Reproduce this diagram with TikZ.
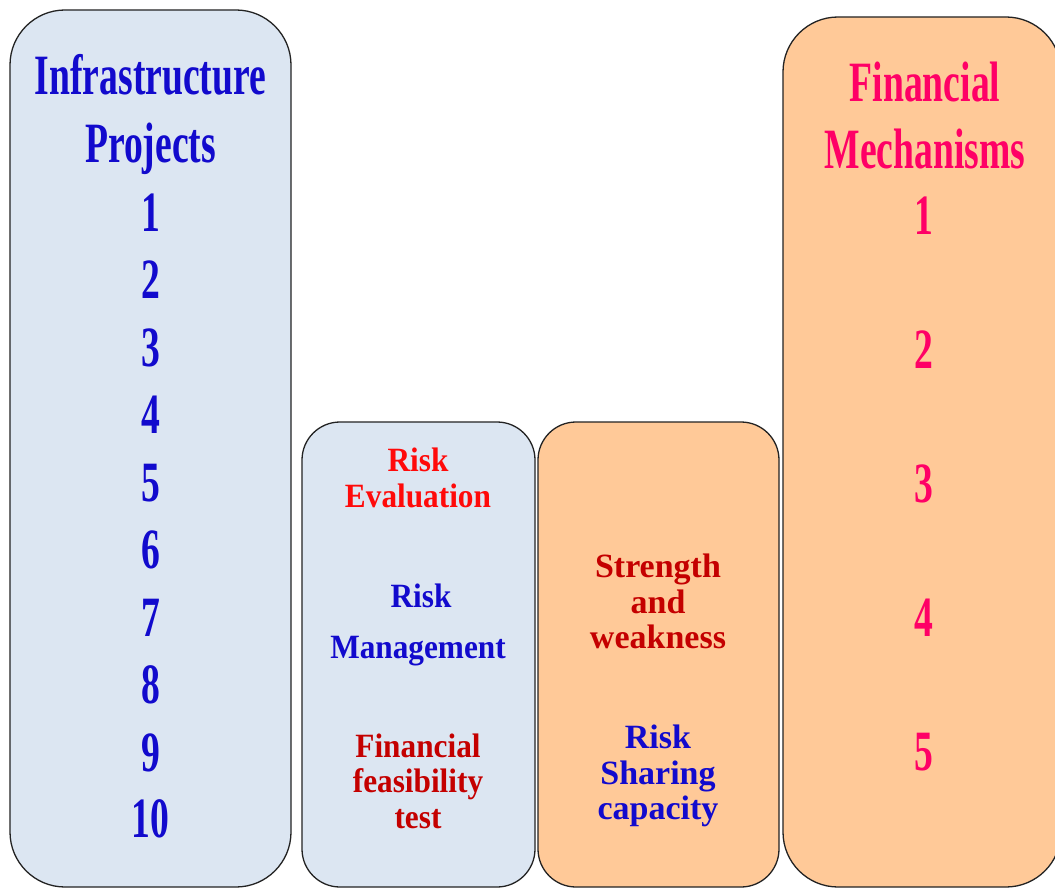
\documentclass[tikz,border=0pt]{standalone}
\usepackage{fontspec}
\usepackage{graphicx}
\setmainfont{Liberation Serif}
\definecolor{lblue}{RGB}{220,230,242}
\definecolor{lorange}{RGB}{255,201,152}
\definecolor{tblue}{RGB}{18,10,205}
\definecolor{tred}{RGB}{255,10,10}
\definecolor{tdred}{RGB}{196,0,0}
\definecolor{tpink}{RGB}{255,0,102}
\definecolor{edge}{RGB}{35,35,35}
\newcommand\cbig[1]{\scalebox{0.66}[1]{#1}}
\newcommand\cmid[1]{\scalebox{0.92}[1]{#1}}
\tikzset{
  panel/.style={draw=edge, line width=1.3pt, rectangle, inner sep=0pt},
  bluepanel/.style={panel, fill=lblue},
  orangepanel/.style={panel, fill=lorange},
  bigtext/.style={font=\fontsize{57}{60}\selectfont\bfseries, anchor=base, inner sep=0pt},
  midtext/.style={font=\fontsize{34}{36}\selectfont\bfseries, anchor=base, inner sep=0pt},
}
\begin{document}
\begin{tikzpicture}[x=1pt,y=-1pt]
\useasboundingbox (0,0) rectangle (1055,888);
\clip (0,0) rectangle (1055,888);
\fill[white] (0,0) rectangle (1055,888);
% panels
\node[bluepanel, rounded corners=55pt, minimum width=281pt, minimum height=877pt] (proj) at (150.5,448.5) {};
\node[bluepanel, rounded corners=38pt, minimum width=233pt, minimum height=465pt] (risk) at (418.5,654.5) {};
\node[orangepanel, rounded corners=38pt, minimum width=241pt, minimum height=465pt] (share) at (658.5,654.5) {};
\node[orangepanel, rounded corners=55pt, minimum width=278pt, minimum height=870pt] (fin) at (922,452) {};
% left panel texts
\begin{scope}[every node/.style={bigtext, text=tblue}]
\node (p1) at (150.5,95) {\cbig{Infrastructure}};
\node (p2) at (150.5,163) {\cbig{Projects}};
\node (n1) at (150.5,231) {\cbig{1}};
\node (n2) at (150.5,298.5) {\cbig{2}};
\node (n3) at (150.5,366) {\cbig{3}};
\node (n4) at (150.5,433.5) {\cbig{4}};
\node (n5) at (150.5,501) {\cbig{5}};
\node (n6) at (150.5,568.5) {\cbig{6}};
\node (n7) at (150.5,636) {\cbig{7}};
\node (n8) at (150.5,703.5) {\cbig{8}};
\node (n9) at (150.5,771) {\cbig{9}};
\node (n10) at (150.5,837.5) {\cbig{10}};
\end{scope}
% right panel texts
\begin{scope}[every node/.style={bigtext, text=tpink}]
\node (f1) at (925,102) {\cbig{Financial}};
\node (f2) at (925,168) {\cbig{Mechanisms}};
\node (m1) at (924,234) {\cbig{1}};
\node (m2) at (924,368) {\cbig{2}};
\node (m3) at (924,502) {\cbig{3}};
\node (m4) at (924,636) {\cbig{4}};
\node (m5) at (924,770) {\cbig{5}};
\end{scope}
% middle left texts
\node[midtext, text=tred] (re1) at (418,471) {\cmid{Risk}};
\node[midtext, text=tred] (re2) at (418,507) {\cmid{Evaluation}};
\node[midtext, text=tblue] (rm1) at (421,607) {\cmid{Risk}};
\node[midtext, text=tblue] (rm2) at (418,658) {\cmid{Management}};
\node[midtext, text=tdred] (ft1) at (418,757) {\cmid{Financial}};
\node[midtext, text=tdred] (ft2) at (418,792) {\cmid{feasibility}};
\node[midtext, text=tdred] (ft3) at (418,828) {\cmid{test}};
% middle right texts
\node[midtext, text=tdred] (sw1) at (658,577) {Strength};
\node[midtext, text=tdred] (sw2) at (658,613) {and};
\node[midtext, text=tdred] (sw3) at (658,648) {weakness};
\node[midtext, text=tblue] (rs1) at (658,748) {Risk};
\node[midtext, text=tblue] (rs2) at (658,784) {Sharing};
\node[midtext, text=tblue] (rs3) at (658,819) {capacity};
\end{tikzpicture}
\end{document}
